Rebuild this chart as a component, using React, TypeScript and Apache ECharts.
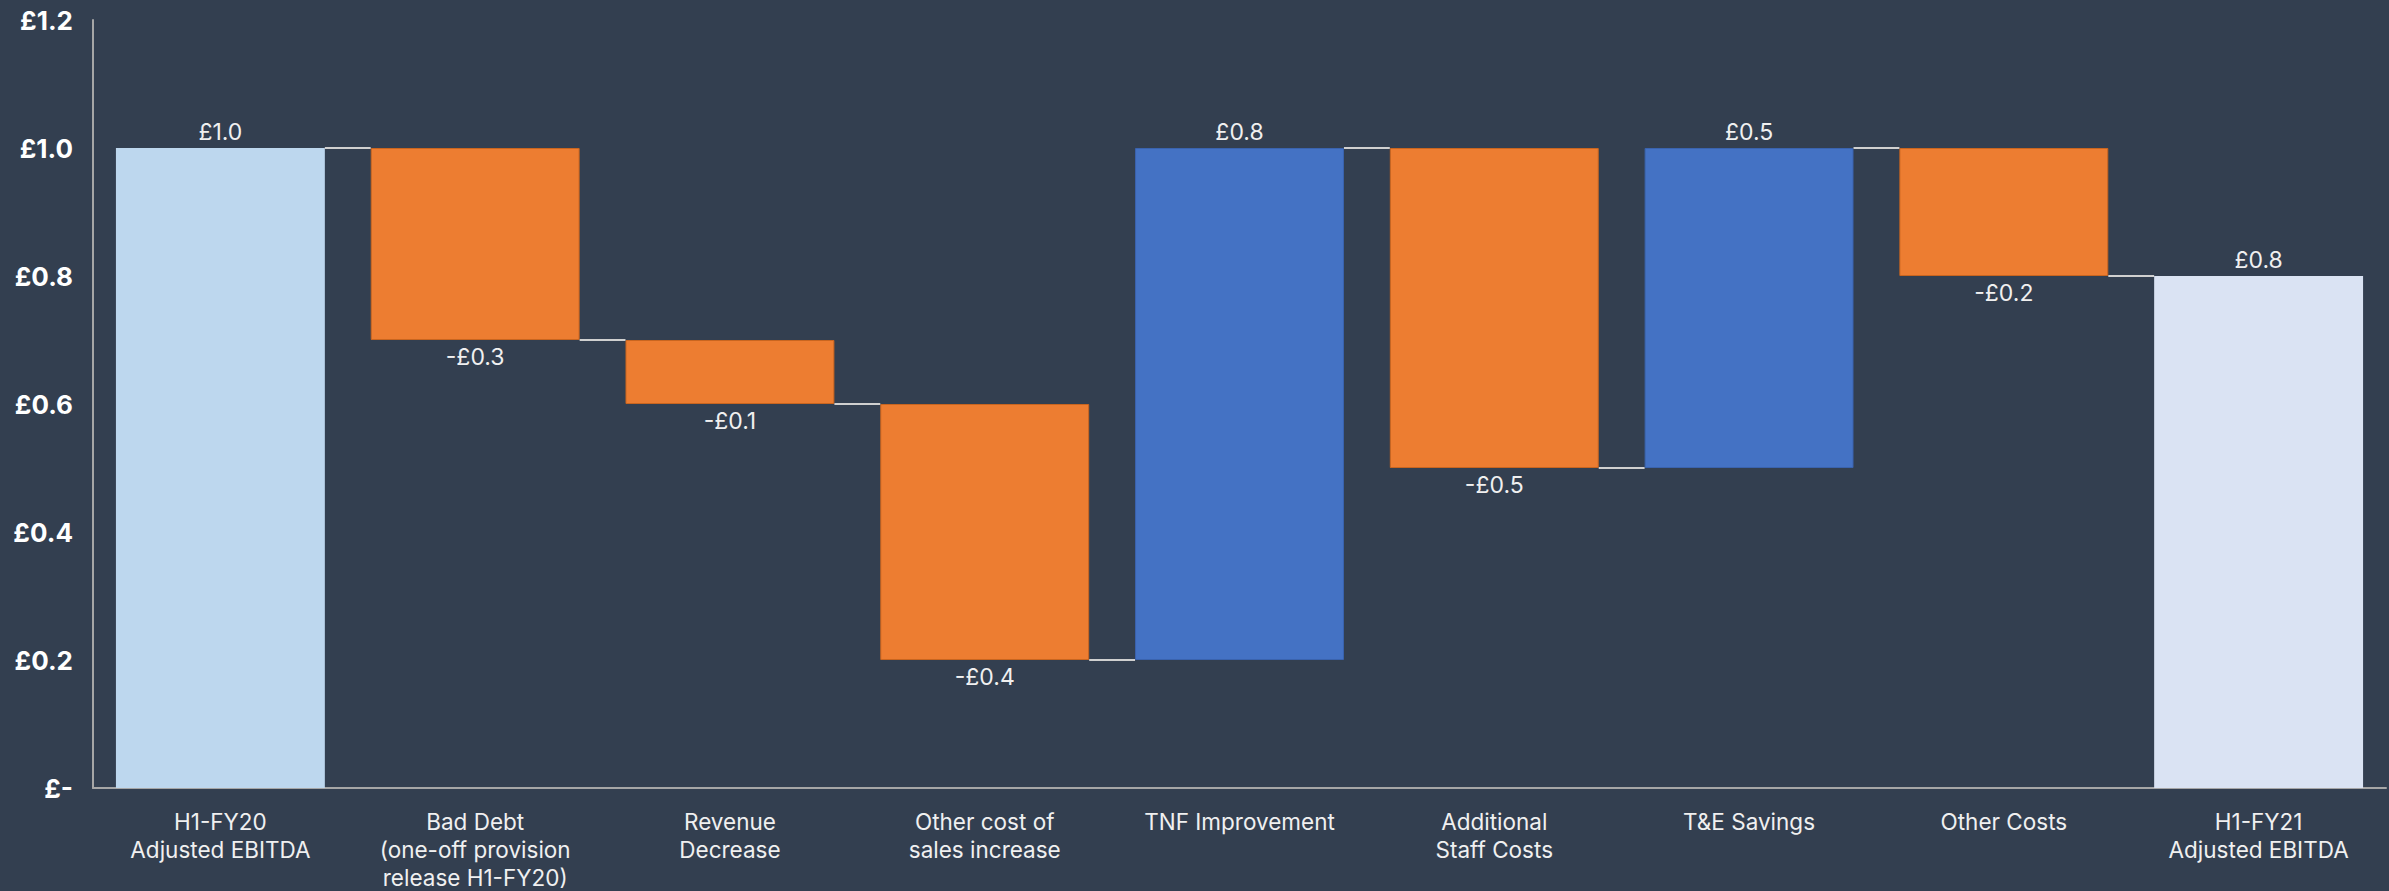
import React, { useEffect, useRef } from "react";
import * as echarts from "echarts";

const categories = [
  "H1-FY20\nAdjusted EBITDA",
  "Bad Debt\n(one-off provision\nrelease H1-FY20)",
  "Revenue\nDecrease",
  "Other cost of\nsales increase",
  "TNF Improvement",
  "Additional\nStaff Costs",
  "T&E Savings",
  "Other Costs",
  "H1-FY21\nAdjusted EBITDA",
];
const deltas = [1.0, -0.3, -0.1, -0.4, 0.8, -0.5, 0.5, -0.2, 0.8];
const isTotal = [true, false, false, false, false, false, false, false, true];
const yTicks = [0, 0.2, 0.4, 0.6, 0.8, 1.0, 1.2];

const BG = "#333F50";
const COL_START = "#BDD7EE";
const COL_END = "#DAE3F3";
const COL_NEG = "#ED7D31";
const COL_POS = "#4472C4";
const FONT = "Inter, 'Noto Sans', sans-serif";

const r2 = (v: number) => Math.round(v * 100) / 100;

export default function App() {
  const ref = useRef<HTMLDivElement>(null);
  useEffect(() => {
    if (!ref.current) return;
    const chart = echarts.init(ref.current, undefined, { renderer: "svg" });

    const bases: number[] = [];
    const values: any[] = [];
    const ends: number[] = [];
    let level = 0;
    deltas.forEach((d, i) => {
      if (isTotal[i]) {
        level = d;
        bases.push(0);
        const color = i === 0 ? COL_START : COL_END;
        values.push({
          value: d,
          itemStyle: { color },
          label: { position: "top", formatter: "£" + d.toFixed(1) },
        });
      } else {
        const start = level;
        const end = r2(level + d);
        bases.push(Math.min(start, end));
        values.push({
          value: Math.abs(d),
          itemStyle: {
            color: d < 0 ? COL_NEG : COL_POS,
            borderColor: d < 0 ? "#C9651F" : "#3A63AE",
            borderWidth: 1,
          },
          label:
            d < 0
              ? { position: "bottom", formatter: "-£" + Math.abs(d).toFixed(1) }
              : { position: "top", formatter: "£" + d.toFixed(1) },
        });
        level = end;
      }
      ends.push(level);
    });
    const connectorData = ends.slice(0, -1).map((v, i) => [i, v]);

    const barFrac = 0.82;

    chart.setOption({
      animation: false,
      backgroundColor: BG,
      grid: { left: 93, right: 3, top: 20, bottom: 103, containLabel: false },
      xAxis: {
        type: "category",
        data: categories,
        axisLine: { show: true, lineStyle: { color: "#A6A6A6", width: 2 } },
        axisTick: { show: false },
        axisLabel: {
          color: "#F0F0F0",
          fontFamily: FONT,
          fontSize: 22.5,
          lineHeight: 28,
          margin: 19,
          interval: 0,
        },
      },
      yAxis: {
        type: "value",
        min: 0,
        max: 1.2,
        interval: 0.2,
        splitLine: { show: false },
        axisLine: { show: true, lineStyle: { color: "#A6A6A6", width: 2 } },
        axisTick: { show: false },
        axisLabel: {
          color: "#FFFFFF",
          fontFamily: FONT,
          fontWeight: "bold",
          fontSize: 26,
          margin: 20,
          formatter: (v: number) => {
            const t = yTicks.find((x) => Math.abs(x - v) < 1e-6);
            const val = t === undefined ? v : t;
            return val === 0 ? "£-" : "£" + val.toFixed(1);
          },
        },
      },
      series: [
        {
          type: "bar",
          stack: "wf",
          data: bases,
          barWidth: barFrac * 100 + "%",
          itemStyle: { color: "transparent" },
          silent: true,
        },
        {
          type: "bar",
          stack: "wf",
          data: values,
          barWidth: barFrac * 100 + "%",
          label: {
            show: true,
            color: "#F0F0F0",
            fontFamily: FONT,
            fontSize: 23,
            distance: 5,
          },
        },
        {
          type: "custom",
          data: connectorData,
          z: 5,
          renderItem: (params: any, api: any) => {
            const i = api.value(0);
            const v = api.value(1);
            const p = api.coord([i, v]);
            const band = api.size([1, 0])[0];
            const half = (band * barFrac) / 2;
            return {
              type: "line",
              shape: {
                x1: p[0] + half,
                y1: p[1],
                x2: p[0] + band - half,
                y2: p[1],
              },
              style: { stroke: "#D0D0D0", lineWidth: 2 },
            };
          },
        },
      ],
    });
    return () => chart.dispose();
  }, []);
  return (
    <div
      ref={ref}
      style={{ position: "fixed", left: 0, top: 0, width: 2389, height: 891 }}
    />
  );
}
